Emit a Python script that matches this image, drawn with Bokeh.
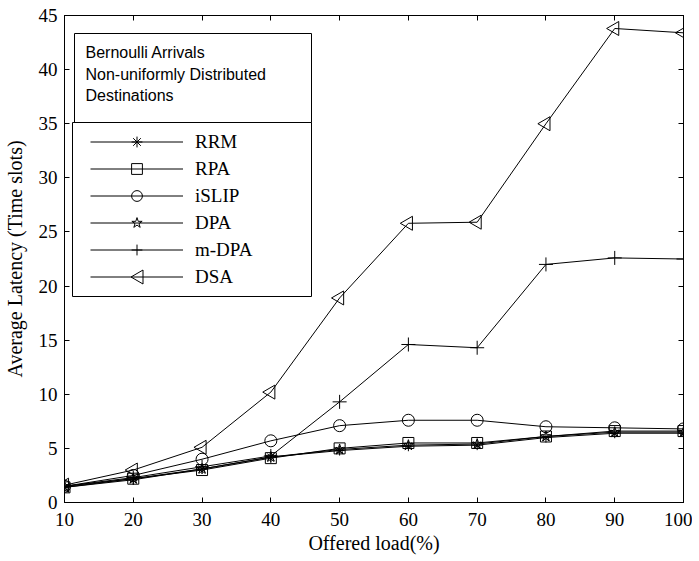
import numpy as np
from bokeh.plotting import figure
from bokeh.models import (LinearAxis, Legend, LegendItem, BoxAnnotation, Label,
                          PolyAnnotation, FixedTicker, Range1d, ColumnDataSource)
from bokeh.embed import file_html
from bokeh.resources import INLINE

load = [10, 20, 30, 40, 50, 60, 70, 80, 90, 100]
rrm = [1.4, 2.1, 3.1, 4.2, 4.8, 5.2, 5.3, 6.0, 6.4, 6.4]
rpa = [1.4, 2.2, 3.0, 4.1, 5.0, 5.5, 5.5, 6.1, 6.6, 6.6]
islip = [1.5, 2.5, 4.0, 5.7, 7.1, 7.6, 7.6, 7.0, 6.9, 6.8]
dpa = [1.5, 2.2, 3.1, 4.2, 4.9, 5.3, 5.4, 6.1, 6.5, 6.5]
mdpa = [1.5, 2.3, 3.3, 4.3, 9.3, 14.6, 14.3, 22.0, 22.6, 22.5]
dsa = [1.6, 3.0, 5.1, 10.2, 18.9, 25.8, 25.9, 35.0, 43.8, 43.4]

series_names = ["RRM", "RPA", "iSLIP", "DPA", "m-DPA", "DSA"]
x_ticks = [10, 20, 30, 40, 50, 60, 70, 80, 90, 100]
y_ticks = [0, 5, 10, 15, 20, 25, 30, 35, 40, 45]
note_lines = ["Bernoulli Arrivals", "Non-uniformly Distributed", "Destinations"]

SERIF = "Liberation Serif"
SANS = "Liberation Sans"

p = figure(frame_width=619, frame_height=487, output_backend="svg",
           toolbar_location=None,
           x_range=Range1d(10, 100), y_range=Range1d(0, 45),
           min_border_left=56, min_border_right=9, min_border_top=15,
           min_border_bottom=56,
           x_axis_label="Offered load(%)",
           y_axis_label="Average Latency (Time slots)")
p.grid.visible = False
p.outline_line_color = "black"
p.background_fill_color = "white"
p.border_fill_color = "white"


def style_axis(ax, ticks, show_labels=True):
    ax.ticker = FixedTicker(ticks=ticks)
    ax.major_tick_in = 5
    ax.major_tick_out = 0
    ax.minor_tick_line_color = None
    ax.axis_line_color = "black"
    ax.major_tick_line_color = "black"
    ax.major_label_text_font = SERIF
    ax.axis_label_text_font = SERIF
    ax.axis_label_text_font_style = "normal"
    ax.axis_label_text_font_size = "20px"
    ax.axis_label_text_color = "black"
    if show_labels:
        ax.major_label_text_font_size = "19px"
        ax.major_label_text_color = "black"
    else:
        ax.major_label_text_font_size = "8px"
        ax.major_label_text_color = None
        ax.major_label_standoff = 0


style_axis(p.xaxis[0], x_ticks)
style_axis(p.yaxis[0], y_ticks)
p.xaxis[0].major_label_standoff = 10
p.xaxis[0].axis_label_standoff = 3
p.yaxis[0].major_label_standoff = 7
p.yaxis[0].axis_label_standoff = 10

top_ax = LinearAxis()
style_axis(top_ax, x_ticks, show_labels=False)
p.add_layout(top_ax, "above")
right_ax = LinearAxis()
style_axis(right_ax, y_ticks, show_labels=False)
p.add_layout(right_ax, "right")

series = [rrm, rpa, islip, dpa, mdpa, dsa]
markers = ["asterisk", "square", "circle", "star", "cross", "triangle"]
sizes = [10, 11, 12, 11, 14, 14]
rotations = [0, 0, 0, 0, 0, np.pi / 2]

items = []
for name, ys, mk, sz, rot in zip(series_names, series, markers, sizes, rotations):
    src = ColumnDataSource(dict(x=load, y=ys))
    lr = p.line("x", "y", source=src, line_color="black", line_width=1)
    sr = p.scatter("x", "y", source=src, marker=mk, size=sz, angle=rot,
                   line_color="black", fill_color=None, line_width=1)
    # the left-pointing triangle of DSA is drawn separately in the legend
    items.append(LegendItem(label=name, renderers=[lr] if rot else [lr, sr]))

# note box and legend box (screen coords relative to plot frame)
note_box = BoxAnnotation(left=10, right=247, top=469, bottom=380,
                         left_units="screen", right_units="screen",
                         top_units="screen", bottom_units="screen",
                         fill_color="white", fill_alpha=1, line_color="black",
                         line_width=1, line_alpha=1)
p.add_layout(note_box)
for i, t in enumerate(note_lines):
    p.add_layout(Label(x=21, y=450 - i * 21.7, x_units="screen", y_units="screen",
                       text=t, text_font=SANS, text_font_size="16px",
                       text_baseline="middle", text_color="black"))

leg_box = BoxAnnotation(left=8, right=247, top=380, bottom=206,
                        left_units="screen", right_units="screen",
                        top_units="screen", bottom_units="screen",
                        fill_color="white", fill_alpha=1, line_color="black",
                        line_width=1, line_alpha=1)
p.add_layout(leg_box)

LEG_X, LEG_Y, GW, GH = 26, 212, 93, 27
legend = Legend(items=items, location=(LEG_X, LEG_Y), padding=0, margin=0,
                border_line_color=None, background_fill_alpha=0,
                glyph_width=GW, glyph_height=GH, label_height=GH, spacing=0,
                label_standoff=12, label_text_font=SERIF,
                label_text_font_size="19px", label_text_color="black")
p.add_layout(legend, "center")

# left-pointing triangle legend marker for the last row (DSA)
cx = LEG_X + GW / 2
cy = LEG_Y + GH / 2
p.add_layout(PolyAnnotation(xs=[cx - 6, cx + 6, cx + 6], ys=[cy, cy + 7, cy - 7],
                            xs_units="screen", ys_units="screen",
                            fill_alpha=0, line_color="black", line_width=1,
                            line_alpha=1))

open("out.html", "w").write(file_html(p, INLINE))
